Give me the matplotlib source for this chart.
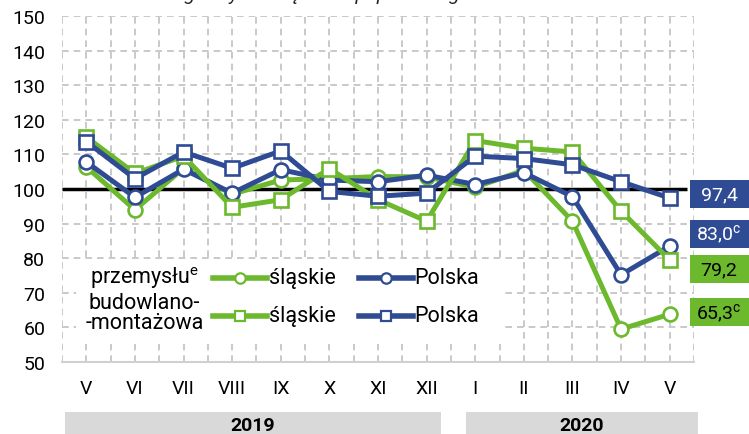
import numpy as np
import matplotlib
matplotlib.use("Agg")
import matplotlib.pyplot as plt
import matplotlib.transforms as mtransforms
from matplotlib.patches import Rectangle
from matplotlib.lines import Line2D

plt.rcParams['font.family'] = ['Roboto', 'DejaVu Sans']
plt.rcParams['mathtext.fontset'] = 'custom'
plt.rcParams['mathtext.rm'] = 'Roboto'

# months May 2019 - May 2020
months = ["V", "VI", "VII", "VIII", "IX", "X", "XI", "XII", "I", "II", "III", "IV", "V"]
years = ["2019", "2020"]

# przemysłu (industry) - circles
ind_slaskie = [106.4, 94.0, 106.0, 98.5, 102.6, 103.0, 103.6, 103.5, 100.5, 105.4, 90.7, 59.5, 63.8]
ind_polska = [107.8, 97.6, 105.7, 98.8, 105.6, 102.6, 102.1, 104.0, 101.3, 104.7, 97.8, 75.2, 83.5]
# budowlano-montażowa (construction) - squares
bud_slaskie = [115.0, 104.5, 109.5, 94.7, 96.9, 105.9, 96.9, 90.7, 114.0, 111.8, 110.7, 93.6, 79.5]
bud_polska = [113.7, 103.0, 110.7, 106.0, 111.0, 99.3, 97.9, 98.8, 109.5, 108.8, 107.0, 102.1, 97.4]

end_labels = ["97,4", "83,0$^{\\mathrm{c}}$", "79,2", "65,3$^{\\mathrm{c}}$"]

green = "#6cb92d"
blue = "#2f4b94"
fs = 14
lfs = 15.5  # legend text

fig = plt.figure(figsize=(7.49, 4.35), dpi=100)
ax = fig.add_axes([62/749, 1-363/435, 632/749, 346/435])

x = np.arange(len(months))
ax.set_xlim(-0.5, 12.5)
ax.set_ylim(50, 150)

# grid
for gx in np.arange(-0.5, 12.6, 0.5):
    ax.axvline(gx, color="#c0c0c0", lw=1.2, ls=(0, (4, 3)), zorder=0)
for gy in range(60, 151, 10):
    ax.axhline(gy, color="#c0c0c0", lw=1.2, ls=(0, (4, 3)), zorder=0)

for s in ["top", "left", "right"]:
    ax.spines[s].set_visible(False)
ax.spines["bottom"].set_color("#d0d0d0")
ax.spines["bottom"].set_linewidth(1.5)

# white legend area
ax.add_patch(Rectangle((-0.22, 55.3), 8.8, 23.5, facecolor="white", edgecolor="none", zorder=1))

ax.plot([-0.5, 12.35], [100, 100], color="black", lw=2.5, zorder=2, solid_capstyle="butt")

kw = dict(lw=3.6, markersize=10, markeredgewidth=1.9, markerfacecolor="white")
ax.plot(x, ind_slaskie, color=green, marker="o", zorder=3, **kw)
ax.plot(x, ind_polska, color=blue, marker="o", zorder=4, **kw)
ax.plot(x, bud_slaskie, color=green, marker="s", zorder=5, **kw)
ax.plot(x, bud_polska, color=blue, marker="s", zorder=6, **kw)

ax.set_xticks(x)
ax.set_xticklabels(months, fontsize=fs)
ax.set_yticks(range(50, 151, 10))
ax.tick_params(axis="x", length=0, pad=12)
ax.tick_params(axis="y", length=0, pad=12, labelsize=fs)

# legend built by hand
ax.text(1.2, 74.5, "przemysłu$^{\\mathrm{e}}$", ha="center", va="center", fontsize=lfs, zorder=7)
ax.text(1.2, 64.4, "budowlano-\n-montażowa", ha="center", va="center", fontsize=lfs,
        linespacing=0.95, zorder=7)
leg_rows = [(74.3, "o"), (63.4, "s")]
for ly, mk in leg_rows:
    for x0, col, name in [(2.6, green, "śląskie"), (5.6, blue, "Polska")]:
        ax.add_line(Line2D([x0, x0 + 1.12], [ly, ly], color=col, lw=4, zorder=7))
        ax.plot([x0 + 0.56], [ly], marker=mk, color=col, markersize=7.5,
                markeredgewidth=1.6, markerfacecolor="white", zorder=8)
        ax.text(x0 + 1.15, ly, name, ha="left", va="center", fontsize=lfs, zorder=7)

# value boxes at the right edge
tr = mtransforms.blended_transform_factory(fig.transFigure, ax.transData)
box_y = [98.5, 87.0, 76.9, 64.4]
box_col = [blue, blue, green, green]
txt_col = ["white", "white", "black", "black"]
for lab, by, bc, tc in zip(end_labels, box_y, box_col, txt_col):
    r = Rectangle((690/749, by - 4.0), 59/749, 8.0, transform=tr, facecolor=bc,
                  edgecolor="none", clip_on=False, zorder=9)
    fig.add_artist(r)
    fig.text(719/749, by, lab, transform=tr, ha="center", va="center",
             fontsize=fs, color=tc, zorder=10)

# year bars
trx = mtransforms.blended_transform_factory(ax.transData, fig.transFigure)
year_spans = [(-0.43, 7.29), (7.8, 12.59)]
for (a, b), yr in zip(year_spans, years):
    fig.add_artist(Rectangle((a, 0), b - a, 22/435, transform=trx, facecolor="#d9d9d9",
                             edgecolor="none", clip_on=False))
    fig.text((a + b) / 2, 9/435, yr, transform=trx, ha="center", va="center",
             fontsize=fs, fontweight="bold")

# subtitle, cut off at the very top as in the source
fig.text(0.434, 1.0, "analogiczny miesiąc roku poprzedniego=100", ha="center",
         va="baseline", fontsize=fs, style="italic", color="#222222")

fig.savefig("out.png", dpi=100)
